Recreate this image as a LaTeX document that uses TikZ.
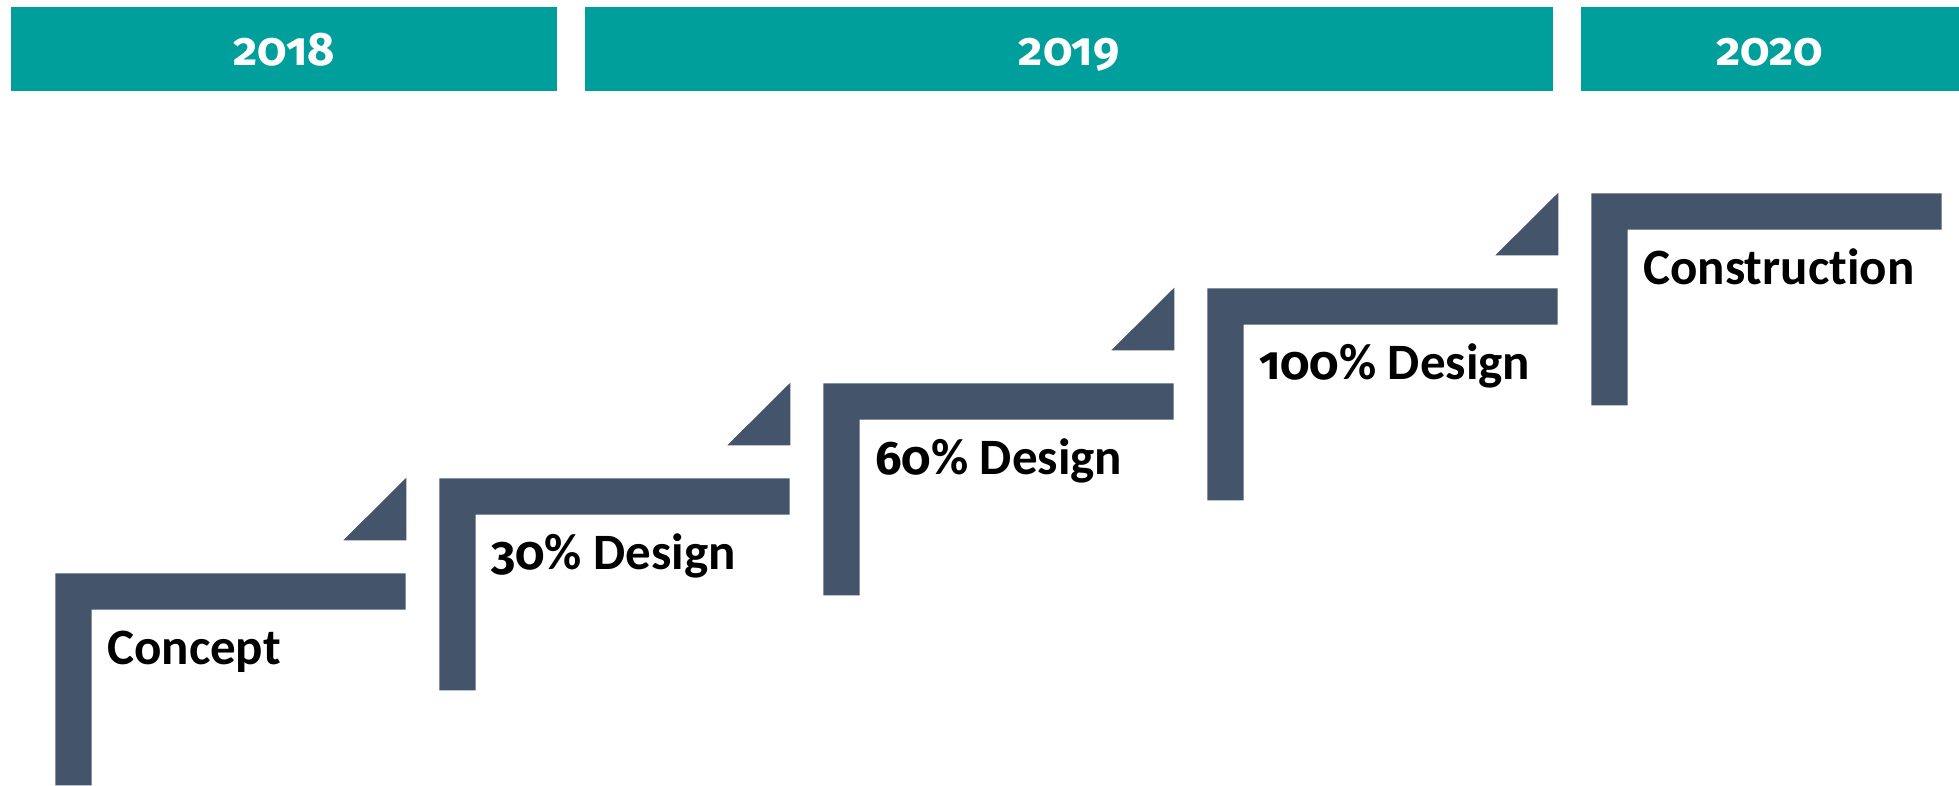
\documentclass[tikz,border=0pt]{standalone}
\usepackage{fontspec}
\setmainfont{Carlito}[Ligatures=NoCommon]
\newfontfamily\figs{Fira Sans}[Numbers=OldStyle,Scale=0.92]
\definecolor{teal1}{HTML}{009F9B}
\definecolor{slate}{HTML}{44546A}
\begin{document}
\begin{tikzpicture}[x=1pt,y=-1pt,
  yearbar/.style={fill=teal1,draw=none},
  yeartext/.style={text=white,font=\figs\fontsize{51}{54}\selectfont\bfseries,anchor=base,inner sep=0pt},
  stair/.style={fill=slate,draw=none},
  steptext/.style={text=black,font=\fontsize{51}{56}\selectfont\bfseries,anchor=base west,inner sep=0pt}]
\useasboundingbox (0,0) rectangle (1959,786);
% year bars
\fill[yearbar] (11,6.7) rectangle (557,90.7);
\fill[yearbar] (585,6.7) rectangle (1552.7,90.7);
\fill[yearbar] (1581,6.7) rectangle (1959,90.7);
\node[yeartext] (y2018) at (284,66) {2018};
\node[yeartext] (y2019) at (1069,66) {2019};
\node[yeartext] (y2020) at (1770,66) {2020};
% stairs
\foreach \i/\lab/\nm in {0/Concept/s0,1/{{\figs 30}\% Design}/s1,2/{{\figs 60}\% Design}/s2,3/{{\figs 100}\% Design}/s3,4/Construction/s4}{
  \pgfmathsetmacro{\X}{55.3+384*\i}
  \pgfmathsetmacro{\Y}{573.3-95*\i}
  \fill[stair] (\X,\Y) -- ++(350.4,0) -- ++(0,36.4) -- ++(-314,0) -- ++(0,175.6) -- ++(-36.4,0) -- cycle;
  \ifnum\i<4
    \fill[stair] (\X+288,\Y-33) -- ++(63,-62.6) -- ++(0,62.6) -- cycle;
  \fi
  \node[steptext] (\nm) at (\X+51.7,\Y+91.5) {\lab};
}
\end{tikzpicture}
\end{document}
